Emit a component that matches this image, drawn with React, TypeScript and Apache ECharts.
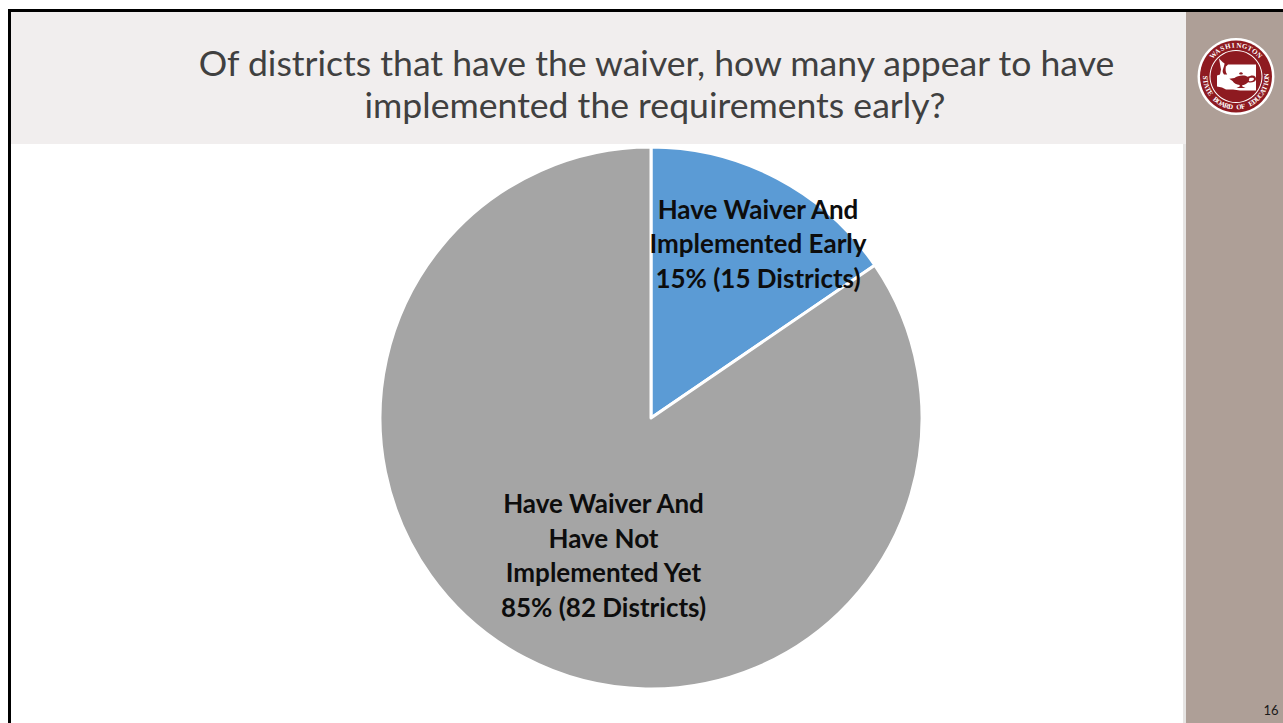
import React, { useEffect, useRef } from "react";
import * as echarts from "echarts";

const titleLines = [
  "Of districts that have the waiver, how many appear to have",
  "implemented the requirements early?",
];
const sliceNames = ["Have Waiver And\nImplemented Early\n15% (15 Districts)", "Have Waiver And\nHave Not\nImplemented Yet\n85% (82 Districts)"];
const sliceValues = [15, 82];
const sliceColors = ["#5B9BD5", "#A5A5A5"];
const pageNumber = "16";
const sealTop = "WASHINGTON";
const sealBottom = "STATE BOARD OF EDUCATION";

const waShape = "M-17 -19 L-13 -15 L-11 -14 L-10 -11 L-8 -13 L20 -13 L20 13 L4 13 L-3 12 L-10 12 L-14 10 L-19 9 L-19 -2 L-16 -3 L-15 -8 Z";
const lampShape = "M-10 -2 C-6 -6 6 -7 10 -4 L14 -5 C20 -7 24 -4 23 0 C22 4 16 5 11 4 C8 7 4 8 2 8 L2 10 L7 12 L-7 12 L-2 10 L-2 8 C-7 7 -11 5 -13 2 L-18 -1 Z M13 -2 L12 2 C16 3 20 2 20 -1 C20 -3 16 -3 13 -2 Z M-3 -9 C-1 -11 1 -11 3 -9 L2 -7 L-2 -7 Z";
const flameShape = "M-15 -5 C-20 -11 -12 -14 -15 -24 C-9 -18 -16 -12 -11 -5 Z";

echarts.graphic.registerShape("waState", echarts.graphic.extendPath(waShape, {}));
echarts.graphic.registerShape("sealLamp", echarts.graphic.extendPath(lampShape, {}));
echarts.graphic.registerShape("sealFlame", echarts.graphic.extendPath(flameShape, {}));

function arcLetters(text: string, cx: number, cy: number, r: number, startDeg: number, stepDeg: number, bottom: boolean) {
  return text.split("").map((ch, i) => {
    const deg = startDeg + i * stepDeg;
    const a = (deg * Math.PI) / 180;
    return {
      type: "text",
      x: cx + r * Math.sin(a),
      y: cy - r * Math.cos(a),
      rotation: bottom ? -(deg + 180) * Math.PI / 180 : -a,
      z: 20,
      style: {
        text: ch,
        fill: "#FFFFFF",
        font: 'bold 7px "Liberation Serif"',
        textAlign: "center",
        textVerticalAlign: "middle",
      },
    };
  });
}

export default function App() {
  const ref = useRef<HTMLDivElement>(null);
  useEffect(() => {
    document.body.style.margin = "0";
    document.body.style.overflow = "hidden";
    const chart = echarts.init(ref.current!, undefined, { renderer: "svg" });
    const cx = 1236;
    const cy = 76.5;
    chart.setOption({
      animation: false,
      backgroundColor: "#FFFFFF",
      graphic: [
        { type: "rect", z: 0, shape: { x: 10, y: 11, width: 1176, height: 133 }, style: { fill: "#F1EEEE" } },
        { type: "rect", z: 0, shape: { x: 1183, y: 144, width: 3, height: 579 }, style: { fill: "#E6E4E3" } },
        { type: "rect", z: 0, shape: { x: 1186, y: 11, width: 97, height: 712 }, style: { fill: "#AE9F97" } },
        { type: "rect", z: 1, shape: { x: 8, y: 9, width: 1275, height: 3 }, style: { fill: "#000000" } },
        { type: "rect", z: 1, shape: { x: 8, y: 9, width: 3, height: 714 }, style: { fill: "#000000" } },
        {
          type: "text", z: 5, x: 656.5, y: 62,
          style: { text: titleLines[0], fill: "#404040", font: '35.6px Lato', textAlign: "center", textVerticalAlign: "middle" },
        },
        {
          type: "text", z: 5, x: 655, y: 104,
          style: { text: titleLines[1], fill: "#404040", font: '35.6px Lato', textAlign: "center", textVerticalAlign: "middle" },
        },
        { type: "text", z: 5, x: 1271, y: 710, style: { text: pageNumber, fill: "#1A1A1A", font: '13px Lato', textAlign: "center", textVerticalAlign: "middle" } },
        { type: "circle", z: 10, shape: { cx, cy, r: 38.5 }, style: { fill: "#FFFFFF" } },
        { type: "circle", z: 11, shape: { cx, cy, r: 36 }, style: { fill: "#8E1A20" } },
        { type: "circle", z: 12, shape: { cx, cy, r: 26.5 }, style: { fill: "#FFFFFF" } },
        { type: "circle", z: 13, shape: { cx, cy, r: 25.5 }, style: { fill: "#8E1A20" } },
        { type: "waState", z: 14, x: cx, y: cy + 1, style: { fill: "#FFFFFF" } },
        { type: "sealLamp", z: 15, x: cx + 5, y: cy + 3, scaleX: 0.65, scaleY: 0.7, style: { fill: "#8E1A20" } },
        { type: "sealFlame", z: 15, x: cx, y: cy + 2, scaleX: 0.8, scaleY: 0.8, style: { fill: "#8E1A20" } },
        ...arcLetters(sealTop, cx, cy, 31, -47, 10.5, false),
        ...arcLetters(sealBottom, cx, cy, 31, 268, -7.8, true),
      ],
      series: [
        {
          type: "pie",
          center: [651, 418],
          radius: [0, 271],
          startAngle: 90,
          clockwise: true,
          silent: true,
          z: 3,
          itemStyle: { borderColor: "#FFFFFF", borderWidth: 3 },
          labelLine: { show: false },
          label: {
            show: true,
            position: "inside",
            color: "#0D0D0D",
            fontFamily: "Lato",
            fontWeight: "bold",
            fontSize: 26,
            lineHeight: 34.5,
            align: "center",
            verticalAlign: "middle",
            formatter: "{b}",
          },
          labelLayout: (p: any) =>
            p.dataIndex === 0 ? { x: 758, y: 243, align: "center", verticalAlign: "middle" } : { x: 603.5, y: 555, align: "center", verticalAlign: "middle" },
          data: sliceNames.map((name, i) => ({
            name,
            value: sliceValues[i],
            itemStyle: { color: sliceColors[i] },
          })),
        },
      ],
    });
    return () => chart.dispose();
  }, []);
  return <div ref={ref} style={{ width: 1283, height: 723 }} />;
}
